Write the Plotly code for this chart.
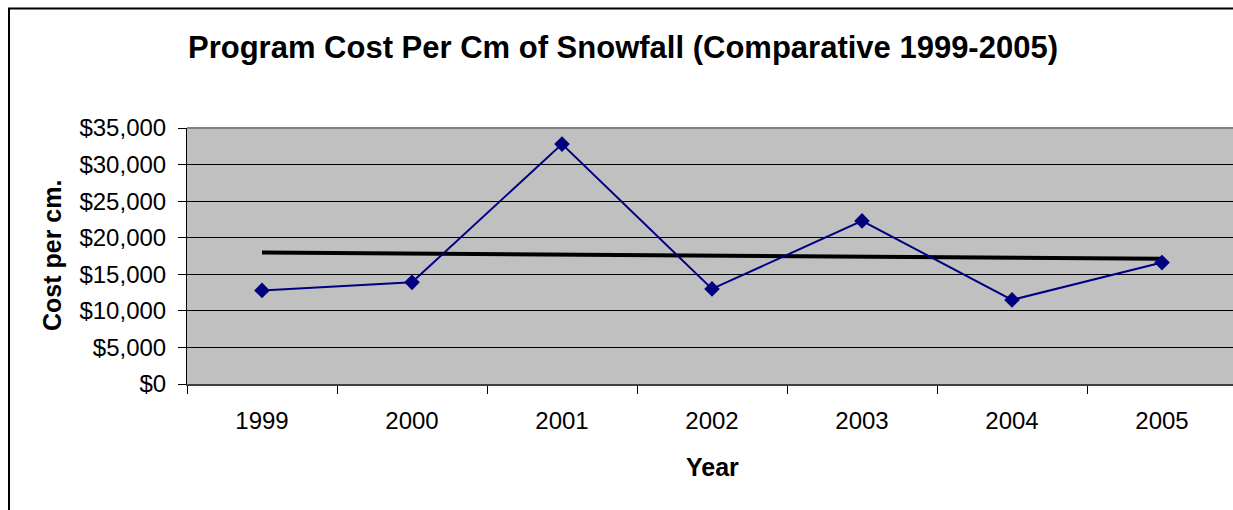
import plotly.graph_objects as go

years = ["1999", "2000", "2001", "2002", "2003", "2004", "2005"]
cost_per_cm = [12800, 13900, 32800, 13000, 22300, 11500, 16600]
trend_years = ["1999", "2005"]
trend_values = [17980, 17140]

W, H = 1233, 510
L, T, R, B = 187, 128, 0, 126
pw, ph = W - L - R, H - T - B

def px(x):
    return (x - L) / pw

def py(y):
    return (H - B - y) / ph

fig = go.Figure()
fig.add_trace(go.Scatter(
    x=trend_years, y=trend_values, mode="lines",
    line=dict(color="black", width=4), hoverinfo="skip", showlegend=False))
fig.add_trace(go.Scatter(
    x=years, y=cost_per_cm, mode="lines+markers",
    line=dict(color="#000080", width=2),
    marker=dict(symbol="diamond", size=12, color="#000080"),
    showlegend=False))

font = "Liberation Sans, Arial, sans-serif"
fig.update_layout(
    width=W, height=H,
    margin=dict(l=L, r=R, t=T, b=B),
    paper_bgcolor="white", plot_bgcolor="#C0C0C0",
    font=dict(family=font, color="black"),
    title=dict(text="<b>Program Cost Per Cm of Snowfall (Comparative 1999-2005)</b>",
               x=623 / W, xanchor="center", y=1 - 47 / H, yanchor="middle",
               yref="container", font=dict(size=31, family=font)),
    xaxis=dict(type="category", categoryorder="array", categoryarray=years,
               range=[-0.5, -0.5 + 7 * pw / 1050], tickson="boundaries",
               ticks="outside", ticklen=8, tickcolor="black", tickwidth=1,
               showline=True, linecolor="#404040", linewidth=2,
               showgrid=False, tickfont=dict(size=24), zeroline=False,
               ticklabelstandoff=14),
    yaxis=dict(range=[0, 35000], dtick=5000, tickprefix="$", tickformat=",",
               ticks="outside", ticklen=8, tickcolor="black", tickwidth=1,
               showline=True, linecolor="black", linewidth=1,
               showgrid=True, gridcolor="black", gridwidth=1,
               tickfont=dict(size=24), zeroline=False, ticklabelstandoff=7),
    annotations=[
        dict(text="<b>Cost per cm.</b>", x=px(52), y=0.5, xref="paper", yref="paper",
             textangle=-90, showarrow=False, xanchor="center", yanchor="middle",
             font=dict(size=25, family=font)),
        dict(text="<b>Year</b>", x=px(712), y=py(467), xref="paper", yref="paper",
             showarrow=False, xanchor="center", yanchor="middle",
             font=dict(size=25, family=font)),
    ],
    shapes=[
        dict(type="line", xref="paper", yref="paper", x0=0, x1=1, y0=1, y1=1,
             line=dict(color="#808080", width=2), layer="above"),
        dict(type="rect", xref="paper", yref="paper", x0=px(9), x1=px(1300),
             y0=py(600), y1=py(8.5), line=dict(color="black", width=2),
             fillcolor="rgba(0,0,0,0)", layer="above"),
    ],
)

fig.write_html("out.html", config={"displayModeBar": False},
               post_script="document.body.style.margin='0';document.body.style.overflow='hidden';")
